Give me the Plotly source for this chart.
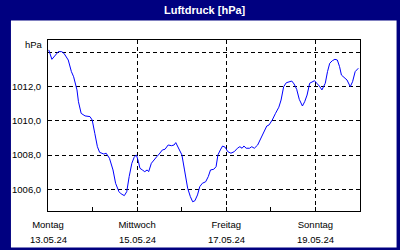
import plotly.graph_objects as go
import pandas as pd

start = "2024-05-13 00:00"
hours = [0.4, 2.1, 5.6, 7.35, 8.6, 10.9, 12.6, 13.8, 15.6, 16.4, 17.85, 19.95, 22.6, 23.8,
         25.2, 26.6, 27.8, 30.1, 31.3, 33.1, 35.0, 36.4, 38.2, 39.4, 41.1, 42.4, 43.7, 45.15,
         46.4, 47.6, 48.7, 49.5, 50.8, 52.1, 53.4, 54.2, 55.65, 56.9, 58.6, 59.85, 61.6, 63.0,
         64.7, 66.5, 67.9, 68.8, 70.0, 72.1, 73.5, 75.2, 76.65, 77.9, 79.1, 80.5, 81.7, 83.1,
         84.9, 86.3, 87.5, 89.25, 90.5, 91.5, 92.8, 94.0, 95.4, 96.8, 98.5, 100.3, 102.0, 103.3,
         104.5, 105.5, 106.7, 108.5, 109.7, 111.1, 112.9, 114.6, 116.4, 117.8, 119.0, 120.75,
         122.5, 124.3, 125.5, 126.9, 128.3, 130.0, 131.25, 132.5, 133.9, 135.3, 137.0, 138.2,
         139.5, 140.9, 142.3, 143.5, 144.7, 146.1, 147.5, 149.3, 150.5, 151.7, 153.1, 154.5,
         155.8, 157.0, 158.0, 159.2, 161.0, 162.75, 164.0, 165.4, 167.1]
pressure = [1014.15, 1013.60, 1014.05, 1014.05, 1013.95, 1013.56, 1012.88, 1012.58, 1011.81,
            1011.12, 1010.44, 1010.29, 1010.25, 1010.05, 1009.27, 1008.49, 1008.16, 1008.06,
            1008.11, 1007.81, 1007.13, 1006.35, 1005.86, 1005.73, 1005.63, 1005.86, 1006.74,
            1007.52, 1007.87, 1008.01, 1007.61, 1007.23, 1007.13, 1007.03, 1007.13, 1007.03,
            1007.52, 1007.71, 1007.91, 1008.06, 1008.30, 1008.34, 1008.59, 1008.55, 1008.59,
            1008.73, 1008.49, 1008.01, 1007.13, 1006.06, 1005.57, 1005.27, 1005.33, 1005.67,
            1006.15, 1006.35, 1006.44, 1006.74, 1007.13, 1007.17, 1007.32, 1008.01, 1008.30,
            1008.53, 1008.46, 1008.20, 1008.11, 1008.20, 1008.40, 1008.49, 1008.40, 1008.53,
            1008.40, 1008.40, 1008.49, 1008.40, 1008.59, 1008.98, 1009.44, 1009.70, 1009.76,
            1010.05, 1010.44, 1010.80, 1011.22, 1012.00, 1012.23, 1012.29, 1012.33, 1012.16,
            1011.85, 1011.26, 1010.87, 1011.12, 1011.51, 1012.20, 1012.29, 1012.35, 1012.20,
            1012.04, 1011.81, 1012.20, 1012.88, 1013.37, 1013.52, 1013.60, 1013.56, 1013.17,
            1012.68, 1012.58, 1012.39, 1012.00, 1012.29, 1012.88, 1013.08]

day_ticks = ["2024-05-13", "2024-05-15", "2024-05-17", "2024-05-19"]
day_names = ["Montag", "Mittwoch", "Freitag", "Sonntag"]
day_dates = ["13.05.24", "15.05.24", "17.05.24", "19.05.24"]
y_ticks = [1006, 1008, 1010, 1012, 1014]
y_labels = ["1006,0", "1008,0", "1010,0", "1012,0", ""]
title = "Luftdruck [hPa]"
unit = "hPa"

times = pd.Timestamp(start) + pd.to_timedelta(hours, unit="h")

W, H = 400, 250
L, R, T, B = 40, 40, 40, 39
pw, ph = W - L - R, H - T - B

def px(x):
    return (x - L) / pw

def py(y):
    return (H - B - y) / ph

FONT = "Liberation Sans"
tickfont = dict(family=FONT, size=9.5, color="black")

fig = go.Figure()
fig.add_trace(go.Scatter(x=times, y=pressure, mode="lines",
                         line=dict(color="#0000ff", width=1), hoverinfo="skip"))

fig.add_shape(type="rect", xref="paper", yref="paper",
              x0=px(2), x1=px(397.5), y0=py(247.5), y1=py(20.5),
              fillcolor="white", line=dict(width=0), layer="below")

fig.add_annotation(text="<b>" + title + "</b>", xref="paper", yref="paper",
                   x=px(201), y=py(10), showarrow=False,
                   font=dict(family=FONT, size=11, color="white"),
                   xanchor="center", yanchor="middle")
fig.add_annotation(text=unit, xref="paper", yref="paper", x=px(36.5), y=py(44.5),
                   showarrow=False, font=tickfont, xanchor="right", yanchor="middle")
for d, t in zip(day_ticks, day_dates):
    fig.add_annotation(text=t, xref="x", yref="paper", x=d, y=py(239),
                       showarrow=False, font=tickfont, xanchor="center", yanchor="middle")

grid = dict(showgrid=True, gridcolor="black", gridwidth=1, griddash="4px,3px",
            showline=True, linecolor="black", linewidth=1, mirror=True, zeroline=False)

fig.update_xaxes(type="date", range=["2024-05-13", "2024-05-20"],
                 tickvals=day_ticks, ticktext=day_names, ticks="inside", ticklen=4,
                 tickcolor="black", tickfont=tickfont, ticklabelstandoff=5,
                 minor=dict(tick0="2024-05-13", dtick=86400000, ticks="inside",
                            ticklen=4, tickcolor="black", showgrid=False),
                 **grid)
fig.update_yaxes(range=[1004.73, 1014.73], tickvals=y_ticks, ticktext=y_labels,
                 ticks="", tickfont=tickfont, ticklabelstandoff=4, **grid)

fig.update_layout(width=W, height=H, margin=dict(l=L, r=R, t=T, b=B, pad=0),
                  paper_bgcolor="#000080", plot_bgcolor="white", showlegend=False)

fig.write_html("out.html")
